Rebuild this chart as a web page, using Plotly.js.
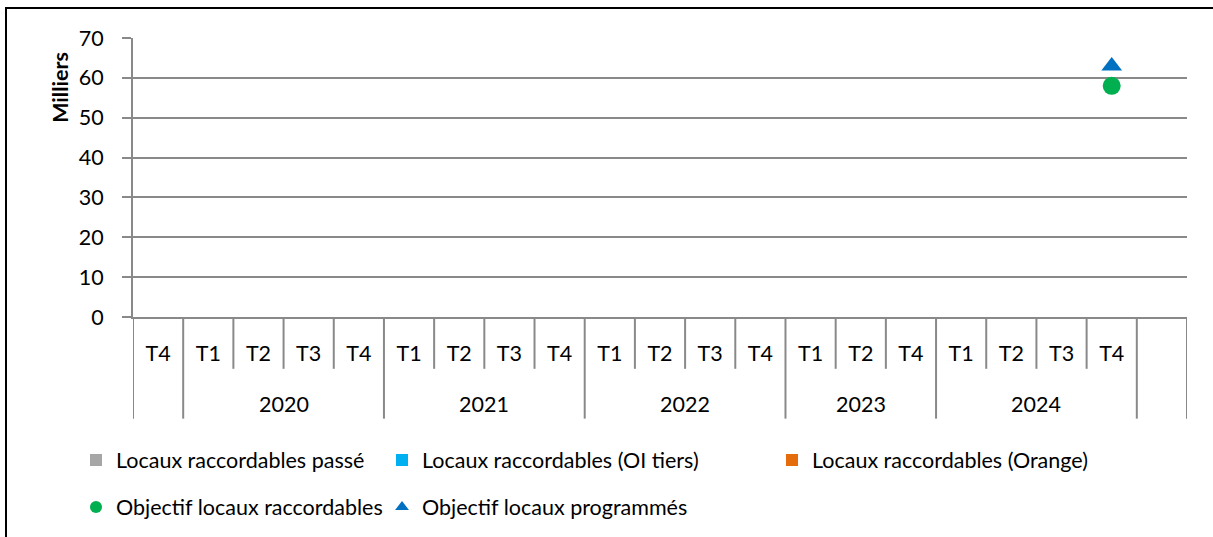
<!DOCTYPE html>
<html>
<head>
<meta charset="utf-8">
<script src="https://cdn.plot.ly/plotly-3.0.1.min.js"></script>
<style>
  body { margin: 0; background: #fff; }
  #chart { width: 1213px; height: 537px; }
  #frame { position: absolute; left: 5px; top: 7px; right: 0; bottom: 0;
           border-top: 2px solid #000; border-left: 2px solid #000; pointer-events: none; }
</style>
</head>
<body>
<div id="chart"></div>
<div id="frame"></div>
<script>
// quarters along the axis, last slot is left empty
var quarters = ['T4','T1','T2','T3','T4','T1','T2','T3','T4','T1','T2','T3','T4','T1','T2','T4','T1','T2','T3','T4',''];
var yearLabels = ['', '2020', '2021', '2022', '2023', '2024', ''];
var yearSpans = [1, 4, 4, 4, 3, 4, 1];

// series (milliers de locaux)
var passe      = [null,null,null,null,null,null,null,null,null,null,null,null,null,null,null,null,null,null,null,null,null];
var oiTiers    = [null,null,null,null,null,null,null,null,null,null,null,null,null,null,null,null,null,null,null,null,null];
var orange     = [null,null,null,null,null,null,null,null,null,null,null,null,null,null,null,null,null,null,null,null,null];
var objRaccord = [null,null,null,null,null,null,null,null,null,null,null,null,null,null,null,null,null,null,null,58,null];
var objProgram = [null,null,null,null,null,null,null,null,null,null,null,null,null,null,null,null,null,null,null,63,null];

var xIdx = quarters.map(function(q, i) { return i; });
var FONT = 'Lato, "Liberation Sans", sans-serif';
var FS = 21.5;
var GRID = '#898989';

var data = [
  {x: xIdx, y: passe, type: 'bar', name: 'Locaux raccordables passé', marker: {color: '#a6a6a6'}, legend: 'legend'},
  {x: xIdx, y: oiTiers, type: 'bar', name: 'Locaux raccordables (OI tiers)', marker: {color: '#00b0f0'}, legend: 'legend2'},
  {x: xIdx, y: orange, type: 'bar', name: 'Locaux raccordables (Orange)', marker: {color: '#e46c0a'}, legend: 'legend3'},
  {x: xIdx, y: objRaccord, type: 'scatter', mode: 'markers', name: 'Objectif locaux raccordables',
   marker: {color: '#00b050', symbol: 'circle', size: 18}, legend: 'legend4'},
  {x: xIdx, y: objProgram, type: 'scatter', mode: 'markers', name: 'Objectif locaux programmés',
   marker: {color: '#0070c0', symbol: 'triangle-up', size: 18}, legend: 'legend5'}
];

// px -> paper helpers (plot area 133..1187 x 38..318)
function px(x) { return (x - 133) / 1054; }
function py(y) { return (318 - y) / 280; }

// divider lines under the axis + year labels
var shapes = [];
var annotations = [];
var yearBounds = [0];
yearSpans.forEach(function(s, i) { yearBounds.push(yearBounds[i] + s); });
for (var b = 0; b <= quarters.length; b++) {
  var full = yearBounds.indexOf(b) >= 0;
  shapes.push({type: 'line', xref: 'x', yref: 'paper', x0: b - 0.5, x1: b - 0.5,
               y0: 0, y1: full ? py(420) : py(370), line: {color: GRID, width: 2}});
}
yearLabels.forEach(function(lab, i) {
  if (!lab) return;
  annotations.push({text: lab, xref: 'x', yref: 'paper', x: yearBounds[i] + yearSpans[i] / 2 - 0.5,
                    y: py(405), showarrow: false, xanchor: 'center', yanchor: 'middle',
                    font: {family: FONT, size: FS, color: '#000'}});
});
annotations.push({text: '<b>Milliers</b>', textangle: -90, xref: 'paper', yref: 'paper',
                  x: px(60), y: py(88), xanchor: 'center', yanchor: 'middle', showarrow: false,
                  font: {family: FONT, size: FS, color: '#000'}});

function leg(x, y) {
  return {orientation: 'h', x: px(x), y: py(y), xanchor: 'left', yanchor: 'middle',
          bgcolor: 'rgba(0,0,0,0)', itemsizing: 'constant', font: {family: FONT, size: FS, color: '#000'}};
}

var layout = {
  width: 1213, height: 537,
  margin: {l: 133, r: 26, t: 38, b: 219},
  paper_bgcolor: '#fff', plot_bgcolor: '#fff',
  font: {family: FONT, size: FS, color: '#000'},
  barmode: 'stack',
  showlegend: true,
  xaxis: {
    range: [-0.5, quarters.length - 0.5],
    tickvals: xIdx, ticktext: quarters,
    ticks: '', showgrid: false, zeroline: false,
    showline: true, linecolor: GRID, linewidth: 2,
    ticklabelstandoff: 16,
    tickfont: {family: FONT, size: FS, color: '#000'}
  },
  yaxis: {
    range: [0, 70], dtick: 10,
    ticks: 'outside', ticklen: 9, tickwidth: 2, tickcolor: GRID,
    showgrid: true, gridcolor: GRID, gridwidth: 2,
    showline: true, linecolor: GRID, linewidth: 2, zeroline: false,
    ticklabelstandoff: 14,
    tickfont: {family: FONT, size: FS, color: '#000'}
  },
  legend: leg(76, 460),
  legend2: leg(382, 460),
  legend3: leg(772, 460),
  legend4: leg(76, 507),
  legend5: leg(382, 507),
  shapes: shapes,
  annotations: annotations
};

Plotly.newPlot('chart', data, layout, {displayModeBar: false, staticPlot: true});
</script>
</body>
</html>
